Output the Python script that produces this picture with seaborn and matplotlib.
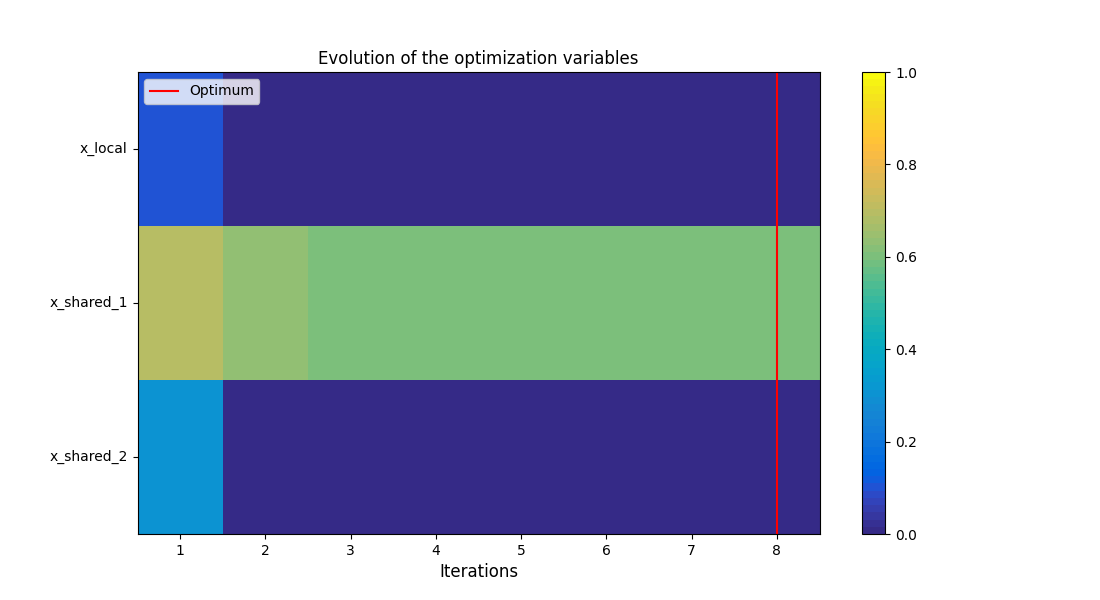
import numpy as np
import pandas as pd
import matplotlib
matplotlib.use("Agg")
import matplotlib.pyplot as plt
from matplotlib.colors import LinearSegmentedColormap
import seaborn as sns

variables = ["x_local", "x_shared_1", "x_shared_2"]
iterations = [1, 2, 3, 4, 5, 6, 7, 8]
x_local = [0.10, 0.0, 0.0, 0.0, 0.0, 0.0, 0.0, 0.0]
x_shared_1 = [0.70, 0.635, 0.60, 0.60, 0.60, 0.60, 0.60, 0.60]
x_shared_2 = [0.30, 0.0, 0.0, 0.0, 0.0, 0.0, 0.0, 0.0]
optimum_iteration = 8

parula_colors = [
    (0.2081, 0.1663, 0.5292), (0.2116, 0.1898, 0.5777), (0.2123, 0.2138, 0.6270),
    (0.2081, 0.2386, 0.6771), (0.1959, 0.2645, 0.7279), (0.1707, 0.2919, 0.7792),
    (0.1253, 0.3242, 0.8303), (0.0591, 0.3598, 0.8683), (0.0117, 0.3875, 0.8820),
    (0.0060, 0.4086, 0.8828), (0.0165, 0.4266, 0.8786), (0.0329, 0.4430, 0.8720),
    (0.0498, 0.4586, 0.8641), (0.0629, 0.4737, 0.8554), (0.0723, 0.4887, 0.8467),
    (0.0779, 0.5040, 0.8384), (0.0793, 0.5200, 0.8312), (0.0749, 0.5375, 0.8263),
    (0.0641, 0.5570, 0.8240), (0.0488, 0.5772, 0.8228), (0.0343, 0.5966, 0.8199),
    (0.0265, 0.6137, 0.8135), (0.0239, 0.6287, 0.8038), (0.0231, 0.6418, 0.7913),
    (0.0228, 0.6535, 0.7768), (0.0267, 0.6642, 0.7607), (0.0384, 0.6743, 0.7436),
    (0.0590, 0.6838, 0.7254), (0.0843, 0.6928, 0.7062), (0.1133, 0.7015, 0.6859),
    (0.1453, 0.7098, 0.6646), (0.1801, 0.7177, 0.6424), (0.2178, 0.7250, 0.6193),
    (0.2586, 0.7317, 0.5954), (0.3022, 0.7376, 0.5712), (0.3482, 0.7424, 0.5473),
    (0.3953, 0.7459, 0.5244), (0.4420, 0.7481, 0.5033), (0.4871, 0.7491, 0.4840),
    (0.5300, 0.7491, 0.4661), (0.5709, 0.7485, 0.4494), (0.6099, 0.7473, 0.4337),
    (0.6473, 0.7456, 0.4188), (0.6834, 0.7435, 0.4044), (0.7184, 0.7411, 0.3905),
    (0.7525, 0.7384, 0.3768), (0.7858, 0.7356, 0.3633), (0.8185, 0.7327, 0.3498),
    (0.8507, 0.7299, 0.3360), (0.8824, 0.7274, 0.3217), (0.9139, 0.7258, 0.3063),
    (0.9450, 0.7261, 0.2886), (0.9739, 0.7314, 0.2666), (0.9938, 0.7455, 0.2403),
    (0.9990, 0.7653, 0.2164), (0.9955, 0.7861, 0.1967), (0.9880, 0.8066, 0.1794),
    (0.9789, 0.8271, 0.1633), (0.9697, 0.8481, 0.1475), (0.9626, 0.8705, 0.1309),
    (0.9589, 0.8949, 0.1132), (0.9598, 0.9218, 0.0948), (0.9661, 0.9514, 0.0755),
    (0.9763, 0.9831, 0.0538),
]
parula = LinearSegmentedColormap.from_list("parula", parula_colors, N=64)

df = pd.DataFrame([x_local, x_shared_1, x_shared_2], index=variables, columns=iterations)

fig, ax = plt.subplots(figsize=(11, 6), dpi=100)
sns.heatmap(df, ax=ax, cmap=parula, vmin=0, vmax=1,
            cbar_kws={"ticks": [0.0, 0.2, 0.4, 0.6, 0.8, 1.0]})
cbar = ax.collections[0].colorbar
cbar.outline.set_linewidth(0.8)
cbar.outline.set_visible(True)
cbar.ax.yaxis.set_major_formatter(matplotlib.ticker.FormatStrFormatter("%.1f"))
cbar.ax.tick_params(labelsize=10, length=3.5, width=0.8)

for s in ax.spines.values():
    s.set_visible(True)
    s.set_linewidth(0.8)
    s.set_color("black")

ax.set_xticks(np.arange(len(iterations)) + 0.5)
ax.set_xticklabels([str(i) for i in iterations], rotation=0)
ax.set_yticks(np.arange(len(variables)) + 0.5)
ax.set_yticklabels(variables, rotation=0, va="center")
ax.tick_params(axis="both", labelsize=10, length=3.5, width=0.8)

opt_pos = iterations.index(optimum_iteration) + 0.5
ax.axvline(opt_pos, color="red", label="Optimum")
ax.legend(loc="upper left", fontsize=10)

ax.set_title("Evolution of the optimization variables", fontsize=12)
ax.set_xlabel("Iterations", fontsize=12)
ax.set_ylabel("")

fig.savefig("out.png", dpi=100)
